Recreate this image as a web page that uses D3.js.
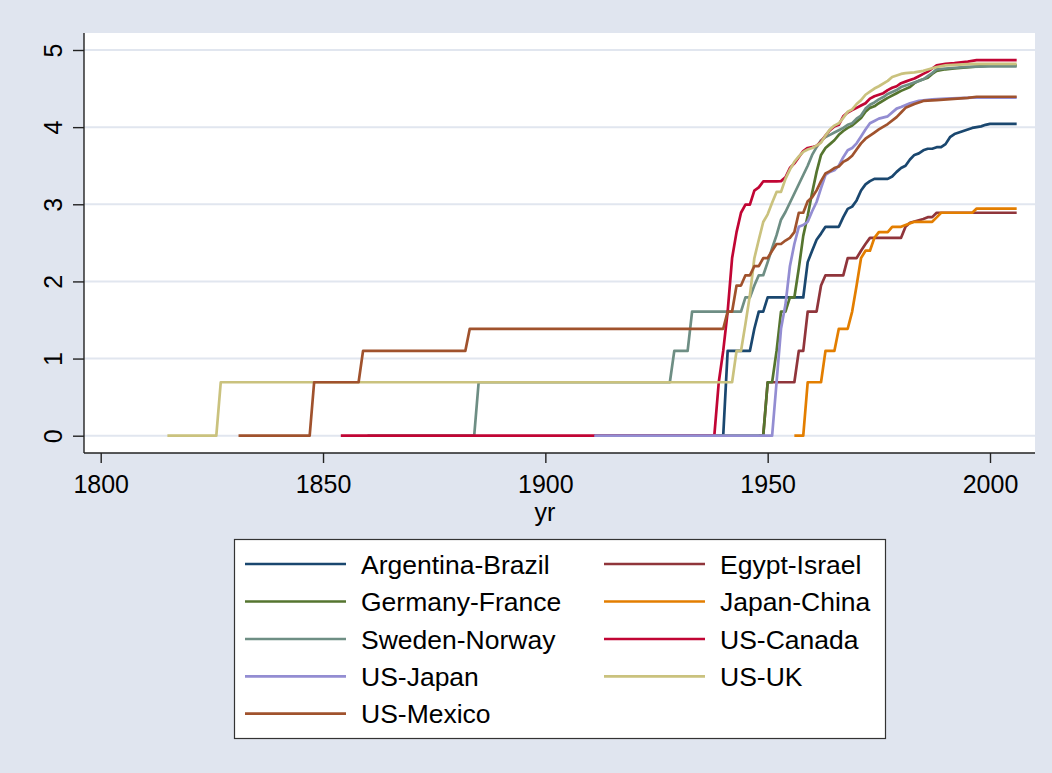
<!DOCTYPE html>
<html>
<head>
<meta charset="utf-8">
<script src="https://cdn.jsdelivr.net/npm/d3@7"></script>
<style>
  html, body { margin: 0; padding: 0; background: #e0e5ef; }
  svg { display: block; }
  text { font-family: "Liberation Sans", Arial, Helvetica, sans-serif; fill: #000; }
</style>
</head>
<body>
<svg id="chart" width="1052" height="773"></svg>
<script>
// Cumulative log counts per dyad, by year ([year, value] where the series changes)
const argentinaBrazil = [[1911,0],[1940,0],[1941,1.099],[1946,1.099],[1947,1.386],[1948,1.609],[1949,1.609],[1950,1.792],[1958,1.792],[1959,2.25],[1960,2.398],[1961,2.54],[1962,2.62],[1963,2.708],[1966,2.708],[1967,2.833],[1968,2.94],[1969,2.97],[1970,3.05],[1971,3.178],[1972,3.258],[1973,3.30],[1974,3.33],[1977,3.33],[1978,3.36],[1979,3.42],[1980,3.47],[1981,3.50],[1982,3.58],[1983,3.64],[1984,3.66],[1985,3.70],[1986,3.72],[1987,3.72],[1988,3.74],[1989,3.74],[1990,3.78],[1991,3.87],[1992,3.91],[1993,3.93],[1994,3.95],[1995,3.97],[1996,3.99],[1997,4.0],[1998,4.01],[1999,4.03],[2000,4.043],[2006,4.043]];
const egyptIsrael = [[1948,0],[1949,0],[1950,0.693],[1956,0.693],[1957,1.099],[1958,1.099],[1959,1.609],[1961,1.609],[1962,1.946],[1963,2.079],[1967,2.079],[1968,2.303],[1970,2.303],[1971,2.398],[1972,2.485],[1973,2.565],[1980,2.565],[1981,2.708],[1982,2.76],[1985,2.81],[1986,2.833],[1987,2.833],[1988,2.89],[2006,2.89]];
const germanyFrance = [[1911,0],[1949,0],[1950,0.693],[1951,0.693],[1952,1.099],[1953,1.609],[1954,1.609],[1955,1.792],[1956,1.792],[1957,2.17],[1958,2.59],[1959,2.85],[1960,3.15],[1961,3.42],[1962,3.64],[1963,3.73],[1964,3.78],[1965,3.83],[1966,3.90],[1967,3.95],[1968,3.99],[1969,4.02],[1970,4.07],[1971,4.12],[1972,4.20],[1973,4.25],[1974,4.27],[1975,4.31],[1977,4.38],[1979,4.44],[1980,4.47],[1982,4.52],[1983,4.57],[1984,4.60],[1985,4.62],[1986,4.64],[1987,4.69],[1988,4.73],[1990,4.75],[1992,4.76],[1996,4.78],[2000,4.80],[2006,4.80]];
const japanChina = [[1956,0],[1958,0],[1959,0.693],[1962,0.693],[1963,1.099],[1965,1.099],[1966,1.386],[1968,1.386],[1969,1.609],[1970,1.946],[1971,2.303],[1972,2.398],[1973,2.398],[1974,2.565],[1975,2.639],[1977,2.639],[1978,2.708],[1980,2.708],[1981,2.73],[1983,2.773],[1987,2.773],[1988,2.83],[1989,2.89],[1996,2.89],[1997,2.944],[2006,2.944]];
const swedenNorway = [[1860,0],[1884,0],[1885,0.693],[1928,0.693],[1929,1.099],[1932,1.099],[1933,1.609],[1944,1.609],[1945,1.792],[1946,1.792],[1947,1.946],[1948,2.079],[1949,2.08],[1950,2.25],[1951,2.43],[1952,2.60],[1953,2.80],[1954,2.90],[1955,3.02],[1956,3.14],[1957,3.26],[1958,3.38],[1959,3.5],[1960,3.64],[1961,3.74],[1962,3.83],[1963,3.87],[1964,3.90],[1965,3.93],[1966,3.96],[1967,3.99],[1968,4.03],[1969,4.05],[1970,4.11],[1971,4.15],[1972,4.24],[1973,4.29],[1974,4.32],[1975,4.36],[1976,4.39],[1977,4.43],[1979,4.48],[1980,4.52],[1982,4.56],[1984,4.60],[1985,4.62],[1986,4.66],[1987,4.70],[1988,4.75],[1990,4.76],[1995,4.78],[2000,4.787],[2006,4.787]];
const usCanada = [[1854,0],[1938,0],[1939,0.693],[1940,1.099],[1941,1.609],[1942,2.303],[1943,2.639],[1944,2.89],[1945,2.996],[1946,2.996],[1947,3.178],[1948,3.219],[1949,3.296],[1952,3.296],[1953,3.30],[1954,3.35],[1955,3.47],[1956,3.53],[1957,3.61],[1958,3.69],[1959,3.73],[1960,3.74],[1961,3.76],[1962,3.81],[1963,3.89],[1964,3.96],[1965,4.01],[1966,4.03],[1967,4.14],[1968,4.19],[1969,4.22],[1970,4.25],[1971,4.28],[1972,4.31],[1973,4.37],[1974,4.40],[1975,4.42],[1976,4.44],[1977,4.48],[1978,4.51],[1979,4.53],[1980,4.57],[1981,4.59],[1982,4.61],[1983,4.63],[1984,4.66],[1985,4.69],[1986,4.72],[1987,4.76],[1988,4.80],[1990,4.82],[1992,4.83],[1995,4.85],[1997,4.868],[2006,4.868]];
const usJapan = [[1911,0],[1951,0],[1952,0.693],[1953,1.386],[1954,1.70],[1955,2.197],[1956,2.485],[1957,2.708],[1958,2.73],[1959,2.773],[1960,2.91],[1961,3.03],[1962,3.21],[1963,3.38],[1964,3.42],[1965,3.44],[1966,3.50],[1967,3.61],[1968,3.70],[1969,3.73],[1970,3.79],[1971,3.88],[1972,3.97],[1973,4.05],[1974,4.08],[1975,4.11],[1977,4.14],[1979,4.24],[1980,4.26],[1982,4.31],[1984,4.34],[1987,4.36],[1990,4.37],[1996,4.382],[2006,4.382]];
const usUK = [[1815,0],[1826,0],[1827,0.693],[1942,0.693],[1943,1.099],[1944,1.099],[1945,1.45],[1946,1.82],[1947,2.3],[1948,2.54],[1949,2.77],[1950,2.87],[1951,3.02],[1952,3.16],[1953,3.16],[1954,3.33],[1955,3.45],[1956,3.55],[1957,3.62],[1958,3.68],[1959,3.71],[1960,3.73],[1961,3.76],[1962,3.80],[1963,3.89],[1964,3.97],[1965,4.02],[1966,4.05],[1967,4.12],[1968,4.20],[1969,4.23],[1970,4.30],[1971,4.35],[1972,4.42],[1973,4.46],[1974,4.50],[1975,4.53],[1977,4.60],[1978,4.65],[1980,4.69],[1981,4.70],[1983,4.71],[1985,4.73],[1988,4.78],[1990,4.80],[1996,4.82],[2006,4.82]];
const usMexico = [[1831,0],[1847,0],[1848,0.693],[1858,0.693],[1859,1.099],[1882,1.099],[1883,1.386],[1940,1.386],[1941,1.609],[1942,1.609],[1943,1.946],[1944,1.946],[1945,2.079],[1946,2.079],[1947,2.197],[1948,2.197],[1949,2.303],[1950,2.303],[1951,2.398],[1952,2.485],[1953,2.485],[1954,2.53],[1955,2.565],[1956,2.639],[1957,2.89],[1958,2.89],[1959,3.04],[1960,3.09],[1961,3.18],[1962,3.30],[1963,3.40],[1964,3.43],[1965,3.47],[1966,3.49],[1967,3.55],[1968,3.58],[1969,3.63],[1970,3.71],[1971,3.79],[1972,3.85],[1973,3.89],[1974,3.93],[1975,3.97],[1977,4.04],[1979,4.13],[1980,4.19],[1981,4.25],[1983,4.30],[1985,4.34],[1988,4.35],[1995,4.38],[1997,4.394],[2006,4.394]];

const seriesNames = ["Argentina-Brazil","Egypt-Israel","Germany-France","Japan-China","Sweden-Norway","US-Canada","US-Japan","US-UK","US-Mexico"];
const seriesValues = [argentinaBrazil, egyptIsrael, germanyFrance, japanChina, swedenNorway, usCanada, usJapan, usUK, usMexico];
const xTicks = [1800, 1850, 1900, 1950, 2000];
const yTicks = [0, 1, 2, 3, 4, 5];
const xTitle = "yr";

// Stata s2color line palette, p1..p9
const palette = ["#1a476f","#90353b","#55752f","#e37e00","#6e8e84","#c10534","#938dd2","#cac27e","#a0522d"];

const W = 1052, H = 773;
const plot = { left: 84, right: 1035, top: 33, bottom: 453 };

const svg = d3.select("#chart");

svg.append("rect").attr("x", 0).attr("y", 0).attr("width", W).attr("height", H).attr("fill", "#e0e5ef");
svg.append("rect")
  .attr("x", plot.left).attr("y", plot.top)
  .attr("width", plot.right - plot.left).attr("height", plot.bottom - plot.top)
  .attr("fill", "#ffffff");

const x = d3.scaleLinear().domain([1800, 2000]).range([100.7, 990]);
const y = d3.scaleLinear().domain([0, 5]).range([435.7, 50]);

// horizontal grid
svg.append("g").selectAll("line").data(yTicks).join("line")
  .attr("x1", plot.left).attr("x2", plot.right)
  .attr("y1", d => y(d)).attr("y2", d => y(d))
  .attr("stroke", "#e1e6ef").attr("stroke-width", 2);

// series
const line = d3.line().x(d => x(d[0])).y(d => y(d[1]));
svg.append("g").selectAll("path").data(seriesValues).join("path")
  .attr("d", line)
  .attr("fill", "none")
  .attr("stroke", (d, i) => palette[i])
  .attr("stroke-width", 2.7)
  .attr("stroke-linejoin", "round");

// x axis
const xAxis = svg.append("g").attr("transform", `translate(0,${plot.bottom})`)
  .call(d3.axisBottom(x).tickValues(xTicks).tickSize(10).tickPadding(12).tickFormat(d3.format("d")));
xAxis.select(".domain").remove();
xAxis.selectAll(".tick line").attr("stroke", "#222").attr("stroke-width", 1.4);
xAxis.selectAll(".tick text").attr("font-size", 25).attr("font-family", "Liberation Sans, Arial, sans-serif").attr("fill", "#000");
svg.append("line").attr("x1", plot.left).attr("x2", plot.right)
  .attr("y1", plot.bottom).attr("y2", plot.bottom)
  .attr("stroke", "#222").attr("stroke-width", 1.4);

// y axis
const yAxis = svg.append("g").attr("transform", `translate(${plot.left},0)`)
  .call(d3.axisLeft(y).tickValues(yTicks).tickSize(11).tickFormat(d3.format("d")));
yAxis.select(".domain").remove();
yAxis.selectAll(".tick line").attr("stroke", "#222").attr("stroke-width", 1.4);
yAxis.selectAll(".tick text")
  .attr("x", null).attr("dy", null)
  .attr("text-anchor", "middle")
  .attr("transform", "translate(-22.3,0) rotate(-90)")
  .attr("font-size", 25).attr("font-family", "Liberation Sans, Arial, sans-serif").attr("fill", "#000");
svg.append("line").attr("x1", plot.left).attr("x2", plot.left)
  .attr("y1", plot.top).attr("y2", plot.bottom)
  .attr("stroke", "#222").attr("stroke-width", 1.4);

// axis title
svg.append("text").attr("x", 545).attr("y", 521)
  .attr("text-anchor", "middle").attr("font-size", 25).text(xTitle);

// legend
const lg = { left: 234, top: 539, right: 885, bottom: 738 };
svg.append("rect")
  .attr("x", lg.left + 0.5).attr("y", lg.top + 0.5)
  .attr("width", lg.right - lg.left).attr("height", lg.bottom - lg.top)
  .attr("fill", "#fff").attr("stroke", "#333").attr("stroke-width", 1.2);

const colX = [245, 604];
const rowY = [564, 601.5, 639, 676.3, 713.7];
const items = svg.append("g").selectAll("g").data(seriesNames).join("g")
  .attr("transform", (d, i) => `translate(${colX[i % 2]},${rowY[Math.floor(i / 2)]})`);
items.append("line").attr("x1", 0).attr("x2", 101).attr("y1", 0).attr("y2", 0)
  .attr("stroke", (d, i) => palette[i]).attr("stroke-width", 2.7);
items.append("text").attr("x", 116).attr("y", 9.5)
  .attr("font-size", 26.5).text(d => d);
</script>
</body>
</html>
